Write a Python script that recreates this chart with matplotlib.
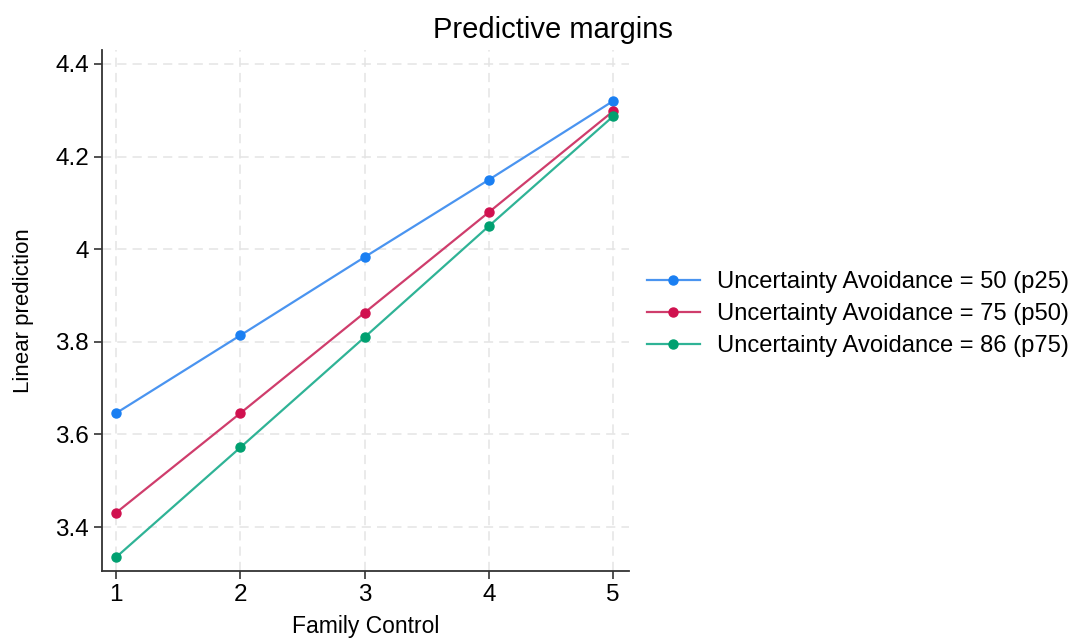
import matplotlib
matplotlib.use("Agg")
import matplotlib.pyplot as plt

plt.rcParams['font.family'] = ['Liberation Sans', 'DejaVu Sans']

family_control = [1, 2, 3, 4, 5]
ua_p25 = [3.646, 3.814, 3.983, 4.150, 4.320]
ua_p50 = [3.431, 3.646, 3.863, 4.080, 4.298]
ua_p75 = [3.335, 3.572, 3.810, 4.050, 4.287]
labels = ['Uncertainty Avoidance = 50 (p25)',
          'Uncertainty Avoidance = 75 (p50)',
          'Uncertainty Avoidance = 86 (p75)']
x_ticks = [1, 2, 3, 4, 5]
y_ticks = [3.4, 3.6, 3.8, 4.0, 4.2, 4.4]
y_ticklabels = ['3.4', '3.6', '3.8', '4', '4.2', '4.4']

line_colors = ['#4a94f0', '#cf3d6c', '#2fb396']
marker_colors = ['#1a7ff2', '#d0114f', '#00a070']

fig = plt.figure(figsize=(10.74, 6.41), dpi=100)
ax = fig.add_axes([0.095, 0.109, 0.491, 0.813])

for series, lab, lc, mc in zip([ua_p25, ua_p50, ua_p75], labels, line_colors, marker_colors):
    ax.plot(family_control, series, color=lc, lw=1.6, marker='o', ms=6.5,
            markerfacecolor=mc, markeredgecolor=mc, label=lab, zorder=3)

ax.set_xlim(0.887, 5.13)
ax.set_ylim(3.305, 4.43)
ax.set_xticks(x_ticks)
ax.set_yticks(y_ticks)
ax.set_yticklabels(y_ticklabels)
ax.tick_params(axis='both', labelsize=17.5, length=6, width=1.2, color='#333333', direction='out')
ax.grid(True, color='#e4e4e4', linestyle=(0, (6, 4)), linewidth=1.1)
ax.set_axisbelow(True)
for s in ['top', 'right']:
    ax.spines[s].set_visible(False)
for s in ['left', 'bottom']:
    ax.spines[s].set_linewidth(1.3)
    ax.spines[s].set_color('#333333')

ax.set_xlabel('Family Control', fontsize=16.5, labelpad=6)
ax.set_ylabel('Linear prediction', fontsize=16, labelpad=15)
fig.text(0.515, 0.953, 'Predictive margins', fontsize=21, ha='center', va='center')

fig.legend(loc='center left', bbox_to_anchor=(0.602, 0.51), frameon=False,
           borderaxespad=0, borderpad=0,
           fontsize=17.1, handlelength=2.24, labelspacing=0.42, handletextpad=0.72)

fig.savefig('out.png', dpi=100)
